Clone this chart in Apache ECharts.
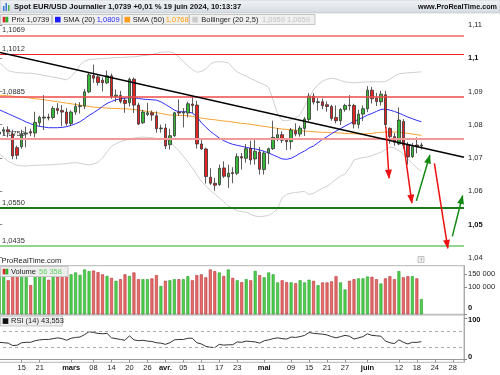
<!DOCTYPE html>
<html><head><meta charset="utf-8">
<script src="https://cdn.jsdelivr.net/npm/echarts@6/dist/echarts.min.js"></script>
<style>html,body{margin:0;padding:0;background:#fff}#c{width:500px;height:375px}</style>
</head><body><div id="c"></div>
<script>
// ---------- DATA ----------
const DATES = ['2024-02-08','2024-02-09','2024-02-12','2024-02-13','2024-02-14','2024-02-15','2024-02-16','2024-02-19','2024-02-20','2024-02-21','2024-02-22','2024-02-23','2024-02-26','2024-02-27','2024-02-28','2024-02-29',
'2024-03-01','2024-03-04','2024-03-05','2024-03-06','2024-03-07','2024-03-08','2024-03-11','2024-03-12','2024-03-13','2024-03-14','2024-03-15','2024-03-18','2024-03-19','2024-03-20','2024-03-21','2024-03-22','2024-03-25','2024-03-26','2024-03-27','2024-03-28','2024-03-29',
'2024-04-01','2024-04-02','2024-04-03','2024-04-04','2024-04-05','2024-04-08','2024-04-09','2024-04-10','2024-04-11','2024-04-12','2024-04-15','2024-04-16','2024-04-17','2024-04-18','2024-04-19','2024-04-22','2024-04-23','2024-04-24','2024-04-25','2024-04-26','2024-04-29','2024-04-30',
'2024-05-01','2024-05-02','2024-05-03','2024-05-06','2024-05-07','2024-05-08','2024-05-09','2024-05-10','2024-05-13','2024-05-14','2024-05-15','2024-05-16','2024-05-17','2024-05-20','2024-05-21','2024-05-22','2024-05-23','2024-05-24','2024-05-27','2024-05-28','2024-05-29','2024-05-30','2024-05-31',
'2024-06-03','2024-06-04','2024-06-05','2024-06-06','2024-06-07','2024-06-10','2024-06-11','2024-06-12','2024-06-13','2024-06-14','2024-06-17','2024-06-18','2024-06-19','2024-06-20','2024-06-21','2024-06-24','2024-06-25','2024-06-26','2024-06-27','2024-06-28',
'2024-07-01','2024-07-02'];

const OPEN = [1.0772,1.0781,1.0785,1.0772,1.0731, 1.0734,1.0772,1.0779,1.0775,1.0806, 1.0820,1.0823,1.0822,1.0849,1.0843, 1.0838,1.0804,1.0838,1.0855,1.0856,
1.0899,1.0948,1.0944,1.0934,1.0926, 1.0947,1.0885,1.0888,1.0874,1.0866, 1.0937,1.0859,1.0806,1.0831,1.0836, 1.0827,1.0788,1.0790,1.0740,1.0767,
1.0838,1.0835,1.0835,1.0862,1.0859, 1.0742,1.0727,1.0642,1.0624,1.0620, 1.0670,1.0643,1.0656,1.0654,1.0704, 1.0699,1.0729,1.0697,1.0718,1.0665,
1.0715,1.0728,1.0760,1.0770,1.0753, 1.0749,1.0782,1.0772,1.0789,1.0816, 1.0886,1.0867,1.0869,1.0860,1.0855, 1.0822,1.0812,1.0846,1.0859,1.0858,
1.0801,1.0832,1.0848,1.0904,1.0880, 1.0869,1.0890,1.0789,1.0764,1.0742, 1.0810,1.0739,1.0704,1.0739,1.0736];
const HIGH = [1.0783,1.0793,1.0795,1.0785,1.0737, 1.0785,1.0794,1.0788,1.0839,1.0827, 1.0889,1.0833,1.0856,1.0865,1.0859, 1.0850,1.0843,1.0865,1.0868,1.0908,
1.0956,1.0981,1.0950,1.0942,1.0963, 1.0954,1.0906,1.0902,1.0880,1.0942, 1.0942,1.0866,1.0845,1.0866,1.0843, 1.0840,1.0800,1.0803,1.0788,1.0839,
1.0876,1.0850,1.0869,1.0885,1.0872, 1.0756,1.0731,1.0669,1.0640,1.0680, 1.0690,1.0680,1.0672,1.0714,1.0715, 1.0742,1.0752,1.0754,1.0733,1.0720,
1.0731,1.0812,1.0790,1.0780,1.0760, 1.0790,1.0804,1.0797,1.0823,1.0895, 1.0895,1.0880,1.0879,1.0870,1.0860, 1.0858,1.0850,1.0863,1.0889,1.0863,
1.0845,1.0858,1.0916,1.0914,1.0896, 1.0902,1.0902,1.0792,1.0775,1.0852, 1.0817,1.0748,1.0745,1.0762,1.0746];
const LOW = [1.0752,1.0768,1.0762,1.0696,1.0696, 1.0728,1.0732,1.0766,1.0762,1.0795, 1.0784,1.0813,1.0816,1.0831,1.0796, 1.0797,1.0796,1.0830,1.0834,1.0847,
1.0895,1.0926,1.0918,1.0900,1.0922, 1.0878,1.0869,1.0864,1.0836,1.0855, 1.0835,1.0799,1.0802,1.0826,1.0812, 1.0776,1.0776,1.0727,1.0725,1.0763,
1.0826,1.0792,1.0822,1.0835,1.0728, 1.0725,1.0623,1.0619,1.0601,1.0616, 1.0640,1.0610,1.0624,1.0648,1.0665, 1.0686,1.0680,1.0680,1.0650,1.0650,
1.0681,1.0724,1.0750,1.0745,1.0724, 1.0725,1.0765,1.0764,1.0766,1.0810, 1.0861,1.0842,1.0847,1.0839,1.0812, 1.0804,1.0799,1.0839,1.0843,1.0789,
1.0789,1.0811,1.0838,1.0864,1.0856, 1.0858,1.0790,1.0743,1.0737,1.0739, 1.0728,1.0680,1.0700,1.0714,1.0726];
const CLOSE = [1.0778,1.0785,1.0779,1.0706,1.0708, 1.0772,1.0775,1.0775,1.0807,1.0822, 1.0823,1.0820,1.0849,1.0843,1.0838, 1.0804,1.0838,1.0855,1.0857,1.0899,
1.0950,1.0940,1.0927,1.0926,1.0947, 1.0885,1.0889,1.0870,1.0864,1.0937, 1.0859,1.0802,1.0838,1.0836,1.0829, 1.0788,1.0790,1.0736,1.0767,1.0836,
1.0835,1.0838,1.0863,1.0858,1.0742, 1.0727,1.0644,1.0624,1.0618,1.0669, 1.0645,1.0654,1.0653,1.0704,1.0700, 1.0728,1.0694,1.0720,1.0666,1.0715,
1.0728,1.0762,1.0770,1.0753,1.0749, 1.0784,1.0772,1.0790,1.0817,1.0886, 1.0868,1.0869,1.0857,1.0855,1.0819, 1.0812,1.0846,1.0858,1.0857,1.0802,
1.0832,1.0848,1.0904,1.0878,1.0870, 1.0892,1.0800,1.0764,1.0747,1.0814, 1.0738,1.0703,1.0734,1.0736,1.0739];

const VOLUME = [150000,155000,126000,172000,152000, 158000,150000,108000,152000,150000, 170000,128000,142000,140000,145000, 152000,148000,155000,146000,166000,
160000,162000,156000,148000,142000, 135000,124000,130000,148000,142000, 155000,130000,130000,130000,133000, 145000,105000,124000,126000,130000,
130000,130000,141000,126000,145000, 148000,137000,166000,160000,155000, 142000,166000,135000,126000,119000, 130000,126000,161000,145000,137000,
155000,148000,118000,126000,119000, 118000,115000,126000,118000,128000, 124000,108000,118000,118000,122000, 141000,118000,92000,124000,130000,
133000,133000,140000,139000,130000, 114000,133000,141000,130000,160000, 137000,141000,141000,133000,56358];

const SMA20 = [1.0845,1.0839,1.0833,1.0827,1.0821, 1.0815,1.0808,1.0803,1.0798,1.0795, 1.0793,1.0791,1.0791,1.0791,1.0792, 1.0794,1.0798,1.0803,1.0809,1.0818,
1.0828,1.0836,1.0845,1.0855,1.0864, 1.0870,1.0875,1.0878,1.0880,1.0881, 1.0881,1.0879,1.0877,1.0876,1.0875, 1.0874,1.0869,1.0861,1.0853,1.0844,
1.0839,1.0839,1.0839,1.0835,1.0825, 1.0806,1.0793,1.0780,1.0770,1.0760, 1.0752,1.0746,1.0741,1.0738,1.0735, 1.0732,1.0729,1.0727,1.0724,1.0720,
1.0715,1.0709,1.0703,1.0697,1.0696, 1.0699,1.0706,1.0714,1.0721,1.0730, 1.0736,1.0746,1.0756,1.0764,1.0773, 1.0781,1.0788,1.0796,1.0803,1.0810,
1.0816,1.0822,1.0829,1.0834,1.0840, 1.0846,1.0847,1.0844,1.0840,1.0835, 1.0829,1.0823,1.0818,1.0813,1.0809];
const SMA50 = [1.0889,1.0888,1.0887,1.0886,1.0884, 1.0883,1.0882,1.0880,1.0878,1.0877, 1.0875,1.0873,1.0871,1.0869,1.0867, 1.0865,1.0863,1.0861,1.0859,1.0857,
1.0855,1.0853,1.0852,1.0851,1.0850, 1.0849,1.0849,1.0848,1.0848,1.0847, 1.0846,1.0844,1.0842,1.0840,1.0838, 1.0836,1.0834,1.0831,1.0829,1.0829,
1.0828,1.0828,1.0827,1.0825,1.0822, 1.0820,1.0818,1.0816,1.0815,1.0813, 1.0811,1.0810,1.0808,1.0806,1.0804, 1.0803,1.0801,1.0799,1.0797,1.0795,
1.0793,1.0791,1.0789,1.0787,1.0786, 1.0785,1.0784,1.0782,1.0781,1.0780, 1.0779,1.0778,1.0777,1.0777,1.0776, 1.0776,1.0775,1.0774,1.0773,1.0773,
1.0772,1.0772,1.0773,1.0774,1.0776, 1.0777,1.0778,1.0778,1.0778,1.0778, 1.0776,1.0774,1.0772,1.0770,1.0768];
const BB_UP = [1.0987,1.0975,1.0963,1.0959,1.0957, 1.0956,1.0955,1.0955,1.0953,1.0951, 1.0948,1.0946,1.0943,1.0941,1.0938, 1.0935,1.0945,1.0960,1.0980,1.0991,
1.0996,1.0997,1.0998,1.0999,1.1000, 1.1001,1.1002,1.1002,1.1003,1.1004, 1.1004,1.1006,1.1008,1.1009,1.1011, 1.1015,1.1018,1.1019,1.1019,1.1015,
1.1004,1.0990,1.0977,1.0966,1.0958, 1.0960,1.0968,1.0982,1.0989,1.0989, 1.0989,1.0986,1.0972,1.0959,1.0952, 1.0946,1.0939,1.0933,1.0926,1.0921,
1.0912,1.0874,1.0832,1.0813,1.0812, 1.0815,1.0821,1.0830,1.0855,1.0880, 1.0905,1.0921,1.0931,1.0937,1.0940, 1.0938,1.0933,1.0929,1.0927,1.0926,
1.0927,1.0928,1.0929,1.0929,1.0929, 1.0929,1.0930,1.0937,1.0946,1.0953, 1.0955,1.0956,1.0957,1.0958,1.0959];
const BB_LOW = [1.0712,1.0701,1.0690,1.0683,1.0678, 1.0676,1.0676,1.0677,1.0678,1.0678, 1.0679,1.0679,1.0680,1.0681,1.0682, 1.0683,1.0685,1.0686,1.0684,1.0681,
1.0679,1.0682,1.0687,1.0700,1.0718, 1.0735,1.0743,1.0749,1.0753,1.0757, 1.0760,1.0762,1.0763,1.0762,1.0761, 1.0759,1.0757,1.0755,1.0750,1.0735,
1.0722,1.0705,1.0688,1.0670,1.0650, 1.0630,1.0616,1.0602,1.0592,1.0580, 1.0568,1.0556,1.0548,1.0541,1.0538, 1.0537,1.0530,1.0525,1.0523,1.0525,
1.0527,1.0535,1.0548,1.0580,1.0590, 1.0594,1.0596,1.0598,1.0599,1.0590, 1.0594,1.0602,1.0609,1.0615,1.0625, 1.0636,1.0645,1.0652,1.0670,1.0694,
1.0698,1.0701,1.0703,1.0707,1.0712, 1.0717,1.0725,1.0733,1.0730,1.0722, 1.0712,1.0697,1.0683,1.0670,1.0659];

const RSI = [42,41,40,34,35, 41,42,42,46,48, 49,49,51,53,51, 47,52,54,55,61,
68,66,64,63,64, 53,51,49,47,58, 48,46,47,45,44, 41,40,37,41,48,
49,49,52,52,41, 38,32,30,29,37, 35,36,36,43,42, 45,44,43,40,46,
48,51,53,51,50, 55,54,56,59,66, 64,63,62,60,56, 53,56,59,57,50,
53,56,63,59,58, 57,45,41,39,48, 42,38,42,42,43.553];

const RED_LEVELS = [1.1069, 1.1012, 1.0885, 1.0758];
const GREEN_LEVELS = [1.0550, 1.0435];
// trend line and arrows in [category index, price]
const TREND = [[-0.5, 1.1019], [103.5, 1.0702]];
const RED_ARROWS = [[[86.1, 1.0794], [86.8, 1.0639]], [[90.1, 1.0739], [91.9, 1.0564]], [[96.9, 1.0684], [99.9, 1.0428]]];
const GREEN_ARROWS = [[[92.9, 1.0571], [95.9, 1.0709]], [[100.9, 1.0464], [103.2, 1.0587]]];

const PRICE_RANGE = [1.037798, 1.113610];
const PRICE_TICKS = [1.04, 1.05, 1.06, 1.07, 1.08, 1.09, 1.10, 1.11];
const PRICE_BOLD = [1.10, 1.05];
const VOL_TICKS = [0, 100000, 150000];
const RSI_TICKS = [0, 100];
const RSI_LEVELS = [70, 30];
const X_TICK_DATES = ['2024-02-15','2024-02-21','2024-03-01','2024-03-08','2024-03-14','2024-03-20','2024-03-26','2024-04-01','2024-04-05','2024-04-11','2024-04-17','2024-04-23','2024-05-01','2024-05-09','2024-05-15','2024-05-21','2024-05-27','2024-06-03','2024-06-12','2024-06-18','2024-06-24','2024-06-28'];
const X_TICK_TEXT = ['15','21','mars','08','14','20','26','avr.','05','11','17','23','mai','09','15','21','27','juin','12','18','24','28'];

// ---------- CHART ----------
const FONT = "'Liberation Sans', Arial, sans-serif";
const FS = 7.5;
const N = DATES.length;
const last = a => a[a.length - 1];
const fmtP = v => v.toFixed(4).replace('.', ',');
const fmtVol = v => String(v).replace(/\B(?=(\d{3})+(?!\d))/g, ' ');
const isUp = k => CLOSE[k] >= OPEN[k];

const candleData = OPEN.map((o, k) => [o, CLOSE[k], LOW[k], HIGH[k]]);
const volData = VOLUME.map((v, k) => ({
  value: v,
  itemStyle: isUp(k) ? { color: '#4fd04f', borderColor: '#2c9a2c', borderWidth: 0.6 }
                     : { color: '#e66a6a', borderColor: '#b53535', borderWidth: 0.6 }
}));

const RED_STYLE = [{ color: '#f18d8d', width: 2 }, { color: '#ee2222', width: 1 }, { color: '#ee4b4b', width: 1.5 }, { color: '#f29a9a', width: 2 }];
const GREEN_STYLE = [{ color: '#1a7a1a', width: 2 }, { color: '#93d493', width: 2 }];
const lvlLabel = v => ({ show: true, position: 'insideStartTop', formatter: fmtP(v), distance: [5, 1], color: '#333', fontSize: FS, fontFamily: FONT });

const tag = (txt, bg, border, color, bold) => ({
  show: true, position: 'end', formatter: txt, distance: 2, backgroundColor: bg, borderColor: border, borderWidth: 1,
  padding: [1, 2, 0, 2], color: color, fontSize: bold ? 8 : FS, fontWeight: bold ? 'bold' : 'normal', fontFamily: FONT
});

const inList = (list, v) => list.some(t => Math.abs(t - v) < 1e-9);
const xFmt = v => { const k = X_TICK_DATES.indexOf(v); if (k < 0) return ''; const t = X_TICK_TEXT[k]; return /^\d/.test(t) ? t : '{m|' + t + '}'; };
const xInt = (i, v) => X_TICK_DATES.indexOf(v) >= 0;

const lineS = (data, color) => ({ type: 'line', xAxisIndex: 0, yAxisIndex: 0, data, showSymbol: false, symbol: 'none', silent: true, z: 2,
  lineStyle: { color, width: 1 } });

const arrowItems = (arr, color) => arr.map(a => [{ coord: a[0], lineStyle: { color, width: 1.5 } }, { coord: a[1] }]);

const option = {
  animation: false,
  textStyle: { fontFamily: FONT },
  grid: [
    { left: -3, width: 467, top: 13, height: 252, outerBoundsMode: 'none' },
    { left: -3, width: 467, top: 265.7, height: 48.6, show: true, borderColor: '#b5b5b5', borderWidth: 1, outerBoundsMode: 'none' },
    { left: -3, width: 467, top: 315, height: 47.3, show: true, borderColor: '#b5b5b5', borderWidth: 1, outerBoundsMode: 'none' }
  ],
  xAxis: [
    { type: 'category', gridIndex: 0, data: DATES, show: false },
    { type: 'category', gridIndex: 1, data: DATES, show: false },
    { type: 'category', gridIndex: 2, data: DATES,
      axisLine: { lineStyle: { color: '#999' } },
      axisTick: { show: true, interval: xInt, length: 3, alignWithLabel: true, lineStyle: { color: '#999' } },
      axisLabel: { interval: xInt, formatter: xFmt, margin: 2, fontSize: FS, color: '#222', fontFamily: FONT,
        rich: { m: { fontWeight: 'bold', fontSize: FS, color: '#111', fontFamily: FONT } } } },
    { type: 'value', gridIndex: 0, min: -0.5, max: N - 0.5, show: false }
  ],
  yAxis: [
    { type: 'value', gridIndex: 0, position: 'right', min: PRICE_RANGE[0], max: PRICE_RANGE[1],
      splitLine: { show: false },
      axisLine: { show: true, lineStyle: { color: '#aaa' } },
      axisTick: { show: true, length: 3, customValues: PRICE_TICKS, lineStyle: { color: '#888' } },
      axisLabel: { customValues: PRICE_TICKS, margin: 4, fontSize: FS, color: '#222', fontFamily: FONT,
        formatter: v => { if (!inList(PRICE_TICKS, v)) return ''; const s = (Math.round(v * 100) / 100).toString().replace('.', ','); return inList(PRICE_BOLD, v) ? '{b|' + s + '}' : s; },
        rich: { b: { fontWeight: 'bold', fontSize: FS, color: '#111', fontFamily: FONT } } } },
    { type: 'value', gridIndex: 1, position: 'right', min: 0, max: 180000,
      splitLine: { show: false },
      axisLine: { show: true, lineStyle: { color: '#aaa' } },
      axisTick: { show: true, length: 3, customValues: VOL_TICKS, lineStyle: { color: '#888' } },
      axisLabel: { customValues: VOL_TICKS, margin: 4, fontSize: FS, color: '#222', fontFamily: FONT,
        formatter: v => { if (!inList(VOL_TICKS, v)) return ''; return v === 0 ? '{z|0}' : fmtVol(v); },
        rich: { z: { fontWeight: 'bold', fontSize: FS, color: '#111', padding: [0, 0, 12, 0], fontFamily: FONT } } } },
    { type: 'value', gridIndex: 2, position: 'right', min: -7, max: 109,
      splitLine: { show: false },
      axisLine: { show: true, lineStyle: { color: '#aaa' } },
      axisTick: { show: true, length: 3, customValues: RSI_TICKS, lineStyle: { color: '#888' } },
      axisLabel: { customValues: RSI_TICKS, margin: 4, fontSize: FS, color: '#222', fontFamily: FONT,
        formatter: v => { if (!inList(RSI_TICKS, v)) return ''; return v === 0 ? '{z|0}' : '{h|100}'; },
        rich: { z: { fontWeight: 'bold', fontSize: FS, color: '#111', padding: [0, 0, 6, 0], fontFamily: FONT },
                h: { fontWeight: 'bold', fontSize: FS, color: '#111', padding: [3, 0, 0, 0], fontFamily: FONT } } } }
  ],
  series: [
    lineS(BB_UP, '#cfcfcf'),
    lineS(BB_LOW, '#cfcfcf'),
    lineS(SMA50, '#f7a231'),
    lineS(SMA20, '#2f2fff'),
    { type: 'candlestick', xAxisIndex: 0, yAxisIndex: 0, data: candleData, barWidth: 3, z: 3, silent: true,
      itemStyle: { color: '#38b838', color0: '#e32424', borderColor: '#333', borderColor0: '#333', borderWidth: 0.8 },
      markLine: { silent: true, animation: false, symbol: ['none', 'none'], precision: 4,
        data: [
          ...RED_LEVELS.map((v, k) => ({ yAxis: v, lineStyle: Object.assign({ type: 'solid' }, RED_STYLE[k]), label: lvlLabel(v) })),
          ...GREEN_LEVELS.map((v, k) => ({ yAxis: v, lineStyle: Object.assign({ type: 'solid' }, GREEN_STYLE[k]), label: lvlLabel(v) })),
          { yAxis: last(CLOSE), lineStyle: { opacity: 0 }, label: tag(fmtP(last(CLOSE)), '#ffd21f', '#c9a200', '#000', true) }
        ] } },
    { type: 'line', xAxisIndex: 3, yAxisIndex: 0, data: [TREND[0]], showSymbol: false, symbol: 'none', silent: true, z: 4,
      lineStyle: { opacity: 0 },
      markLine: { silent: true, animation: false, symbol: ['none', 'none'], precision: 4, label: { show: false },
        data: [[{ coord: TREND[0], lineStyle: { color: '#000', width: 1.5, type: 'solid' } }, { coord: TREND[1] }]] } },
    { type: 'line', xAxisIndex: 3, yAxisIndex: 0, data: [TREND[0]], showSymbol: false, symbol: 'none', silent: true, z: 5,
      lineStyle: { opacity: 0 },
      markLine: { silent: true, animation: false, symbol: ['none', 'triangle'], symbolSize: [7, 9], symbolOffset: [0, [0, 4]], precision: 4,
        label: { show: false }, lineStyle: { type: 'solid' },
        data: [...arrowItems(RED_ARROWS, '#ee1111'), ...arrowItems(GREEN_ARROWS, '#128a12')] } },
    { type: 'bar', xAxisIndex: 1, yAxisIndex: 1, data: volData, barWidth: 3, silent: true,
      markLine: { silent: true, animation: false, symbol: ['none', 'none'], precision: 0,
        data: [{ yAxis: last(VOLUME), lineStyle: { opacity: 0 }, label: tag(fmtVol(last(VOLUME)), '#fff', '#999', '#3cc43c', false) }] } },
    { type: 'line', xAxisIndex: 2, yAxisIndex: 2, data: RSI, showSymbol: false, symbol: 'none', silent: true,
      lineStyle: { color: '#333', width: 1 },
      markLine: { silent: true, animation: false, symbol: ['none', 'none'], precision: 3,
        data: [
          ...RSI_LEVELS.map(v => ({ yAxis: v, lineStyle: { color: '#aaa', type: [3, 3], width: 1 }, label: { show: false } })),
          { yAxis: last(RSI), lineStyle: { opacity: 0 }, label: tag(last(RSI).toFixed(3).replace('.', ','), '#fff', '#999', '#222', false) }
        ] } }
  ],
  graphic: [
    { type: 'rect', z: 100, shape: { x: 0, y: 0, width: 500, height: 13 },
      style: { fill: { type: 'linear', x: 0, y: 0, x2: 0, y2: 1, colorStops: [{ offset: 0, color: '#f1f3f6' }, { offset: 1, color: '#d6dbe1' }] }, stroke: '#b9bfc6', lineWidth: 0.6 } },
    { type: 'rect', z: 101, shape: { x: 3, y: 6, width: 1.5, height: 5 }, style: { fill: '#3b7bd6' } },
    { type: 'rect', z: 101, shape: { x: 5.5, y: 3, width: 1.5, height: 8 }, style: { fill: '#3b7bd6' } },
    { type: 'rect', z: 101, shape: { x: 8, y: 5, width: 1.5, height: 6 }, style: { fill: '#4caf50' } },
    { type: 'text', z: 101, x: 14, y: 7, style: { text: 'Spot EUR/USD Journalier ' + fmtP(last(CLOSE)) + ' +0,01 % 19 juin 2024, 10:13:37', fontFamily: FONT, fontSize: 7.6, fontWeight: 'bold', fill: '#111', verticalAlign: 'middle' } },
    { type: 'text', z: 101, x: 497, y: 7, style: { text: 'www.ProRealTime.com', fontFamily: FONT, fontSize: 7.2, fontWeight: 'bold', fill: '#111', align: 'right', verticalAlign: 'middle' } },
    // legend row
    { type: 'rect', z: 100, shape: { x: 0.5, y: 14.5, width: 51, height: 10 }, style: { fill: '#f0f0f0', stroke: '#c6c6c6', lineWidth: 1 } },
    { type: 'rect', z: 101, shape: { x: 2.7, y: 16.8, width: 2.8, height: 5.6 }, style: { fill: '#d92b2b' } },
    { type: 'rect', z: 101, shape: { x: 5.5, y: 16.8, width: 2.8, height: 5.6 }, style: { fill: '#2fae2f' } },
    { type: 'text', z: 101, x: 11.5, y: 19.7, style: { text: 'Prix ' + fmtP(last(CLOSE)), fontFamily: FONT, fontSize: FS, fill: '#222', verticalAlign: 'middle' } },
    { type: 'rect', z: 100, shape: { x: 52.5, y: 14.5, width: 69, height: 10 }, style: { fill: '#f0f0f0', stroke: '#c6c6c6', lineWidth: 1 } },
    { type: 'rect', z: 101, shape: { x: 55, y: 16.8, width: 5.6, height: 5.6 }, style: { fill: '#1a1aff' } },
    { type: 'text', z: 101, x: 63.3, y: 19.7, style: { text: 'SMA (20)', fontFamily: FONT, fontSize: FS, fill: '#222', verticalAlign: 'middle' } },
    { type: 'text', z: 101, x: 96.7, y: 19.7, style: { text: fmtP(last(SMA20)), fontFamily: FONT, fontSize: FS, fill: '#2a2aff', verticalAlign: 'middle' } },
    { type: 'rect', z: 100, shape: { x: 122.5, y: 14.5, width: 66.5, height: 10 }, style: { fill: '#f0f0f0', stroke: '#c6c6c6', lineWidth: 1 } },
    { type: 'rect', z: 101, shape: { x: 124.5, y: 16.8, width: 5.6, height: 5.6 }, style: { fill: '#ff9c1a' } },
    { type: 'text', z: 101, x: 132.7, y: 19.7, style: { text: 'SMA (50)', fontFamily: FONT, fontSize: FS, fill: '#222', verticalAlign: 'middle' } },
    { type: 'text', z: 101, x: 165.7, y: 19.7, style: { text: fmtP(last(SMA50)), fontFamily: FONT, fontSize: FS, fill: '#ff9900', verticalAlign: 'middle' } },
    { type: 'rect', z: 100, shape: { x: 189.5, y: 14.5, width: 125.5, height: 10 }, style: { fill: '#f0f0f0', stroke: '#c6c6c6', lineWidth: 1 } },
    { type: 'rect', z: 101, shape: { x: 192.3, y: 16.8, width: 5.6, height: 5.6 }, style: { fill: '#cccccc' } },
    { type: 'text', z: 101, x: 201.3, y: 19.7, style: { text: 'Bollinger (20 2,5)', fontFamily: FONT, fontSize: FS, fill: '#222', verticalAlign: 'middle' } },
    { type: 'text', z: 101, x: 262, y: 19.7, style: { text: fmtP(last(BB_UP)) + ' ' + fmtP(last(BB_LOW)), fontFamily: FONT, fontSize: FS, fill: '#c4c4c4', verticalAlign: 'middle' } },
    // bottom of price panel
    { type: 'text', z: 101, x: 1.5, y: 261, style: { text: 'ProRealTime.com', fontFamily: FONT, fontSize: FS, fill: '#222', verticalAlign: 'middle' } },
    { type: 'rect', z: 101, shape: { x: 418, y: 256.5, width: 6, height: 6 }, style: { fill: '#f2f2f2', stroke: '#a0a0a0', lineWidth: 0.6 } },
    { type: 'text', z: 102, x: 421, y: 259.7, style: { text: 'i', fontFamily: FONT, fontSize: 5.5, fill: '#666', align: 'center', verticalAlign: 'middle' } },
    // volume legend
    { type: 'rect', z: 100, shape: { x: 0.5, y: 266.5, width: 67.5, height: 10 }, style: { fill: '#eeeeee', stroke: '#c6c6c6', lineWidth: 1 } },
    { type: 'rect', z: 101, shape: { x: 2.7, y: 268.8, width: 2.8, height: 5.6 }, style: { fill: '#d92b2b' } },
    { type: 'rect', z: 101, shape: { x: 5.5, y: 268.8, width: 2.8, height: 5.6 }, style: { fill: '#2fae2f' } },
    { type: 'text', z: 101, x: 11, y: 271.7, style: { text: 'Volume', fontFamily: FONT, fontSize: FS, fill: '#222', verticalAlign: 'middle' } },
    { type: 'text', z: 101, x: 39, y: 271.7, style: { text: fmtVol(last(VOLUME)), fontFamily: FONT, fontSize: FS, fill: '#5fd35f', verticalAlign: 'middle' } },
    // RSI legend
    { type: 'rect', z: 100, shape: { x: 0.5, y: 316, width: 62, height: 10 }, style: { fill: '#eeeeee', stroke: '#c6c6c6', lineWidth: 1 } },
    { type: 'rect', z: 101, shape: { x: 2.7, y: 318.3, width: 5.6, height: 5.6 }, style: { fill: '#111' } },
    { type: 'text', z: 101, x: 11, y: 321.2, style: { text: 'RSI (14) ' + last(RSI).toFixed(3).replace('.', ','), fontFamily: FONT, fontSize: FS, fill: '#222', verticalAlign: 'middle' } }
  ]
};

const chart = echarts.init(document.getElementById('c'), null, { renderer: 'canvas', width: 500, height: 375 });
chart.setOption(option);
</script>
</body></html>
